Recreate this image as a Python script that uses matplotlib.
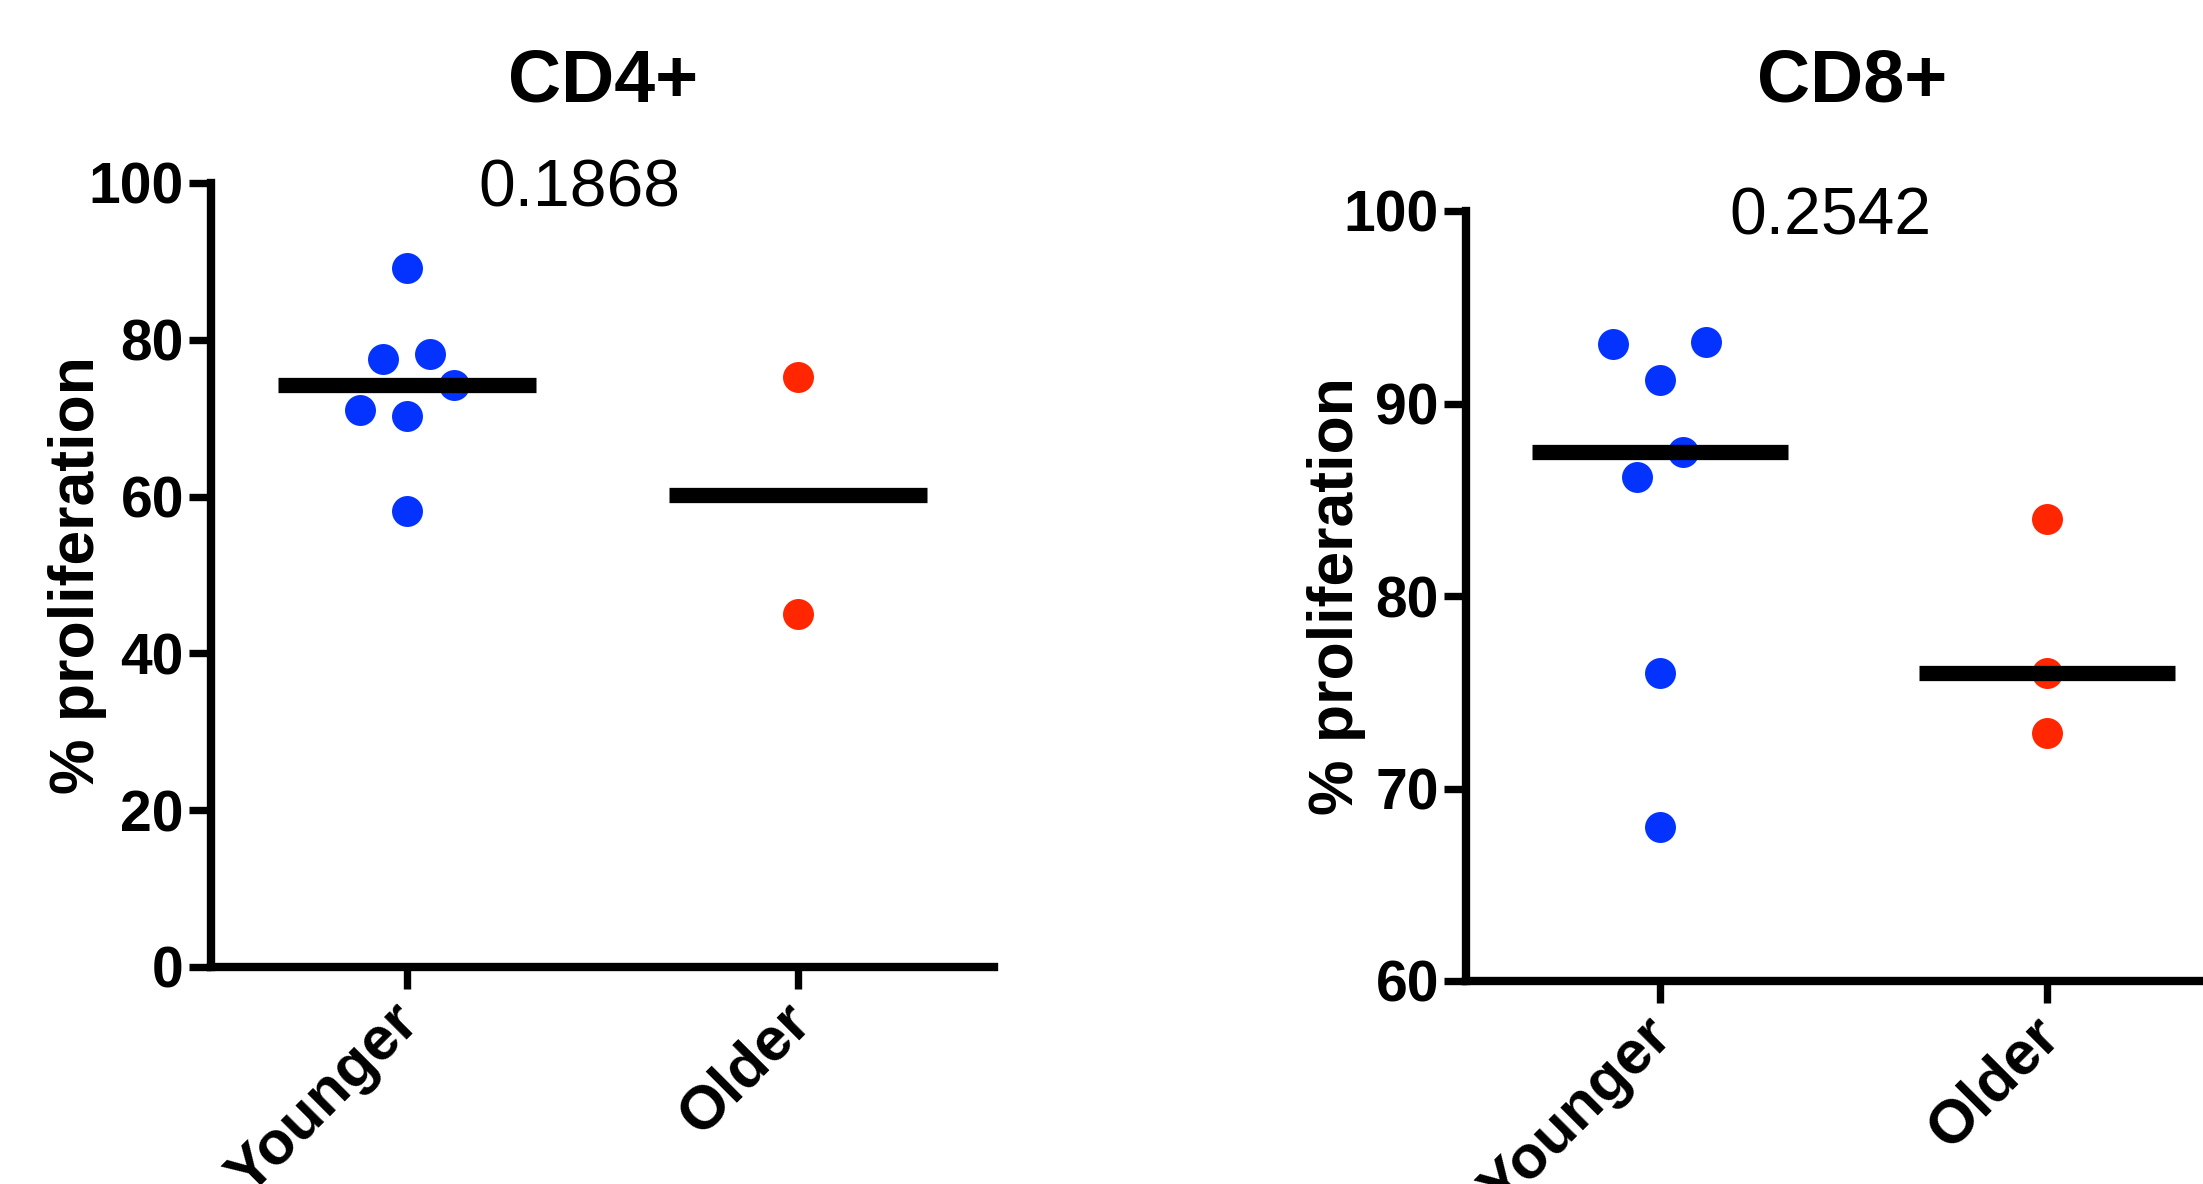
import matplotlib
matplotlib.use('Agg')
import matplotlib.pyplot as plt
import matplotlib.transforms as mtransforms
import numpy as np

plt.rcParams['font.family'] = ['Liberation Sans', 'DejaVu Sans']

# ---------------- data ----------------
groups = ['Younger', 'Older']
cd4_younger = [89.2, 78.2, 77.5, 74.2, 71.1, 70.3, 58.1]
cd4_older = [75.3, 45.0]
cd8_younger = [93.1, 93.2, 91.2, 87.5, 86.2, 76.0, 68.0]
cd8_older = [84.0, 76.0, 72.9]
cd4_p = '0.1868'
cd8_p = '0.2542'
cd4_yticks = [0, 20, 40, 60, 80, 100]
cd8_yticks = [60, 70, 80, 90, 100]
titles = ['CD4+', 'CD8+']
ylabel = '% proliferation'

# ---------------- layout (scatter-dot spread, in category units) ----------------
cd4_younger_spread = [0, 0.06, -0.06, 0.12, -0.12, 0, 0]
cd4_older_spread = [0, 0]
cd8_younger_spread = [-0.12, 0.12, 0, 0.06, -0.06, 0, 0]
cd8_older_spread = [0, 0, 0]

BLUE = '#0433FF'
RED = '#FF2600'
W, H = 2203, 1184
fig = plt.figure(figsize=(W / 100, H / 100), dpi=100)


def px_axes(l, r, b, t):
    return fig.add_axes([l / W, 1 - b / H, (r - l) / W, (b - t) / H])


def panel(ax, younger, older, ys, os_, ylim, yticks, title, pval, title_x, ylab_x, ylab_y):
    for i, (vals, spread, col) in enumerate([(younger, ys, BLUE), (older, os_, RED)]):
        xs = [i + s for s in spread]
        ax.plot(xs, vals, 'o', ms=22.3, color=col, mec='none', zorder=2, clip_on=False)
        ax.hlines(np.median(vals), i - 0.33, i + 0.33, lw=11, color='black', zorder=3,
                  capstyle='butt')
    ax.set_xlim(-0.5, 1.5)
    ax.set_ylim(*ylim)
    ax.set_yticks(yticks)
    ax.set_xticks(range(len(groups)))
    ax.tick_params(axis='y', labelsize=41, width=5.3, length=15.5, pad=4)
    ax.tick_params(axis='x', width=5.3, length=15.5, pad=3)
    ax.set_xticklabels(groups, rotation=45, ha='right', va='top', rotation_mode='anchor',
                       fontsize=44, fontweight='bold')
    shift = mtransforms.ScaledTranslation(-16 / 100, 0, fig.dpi_scale_trans)
    for lab in ax.get_xticklabels():
        lab.set_transform(lab.get_transform() + shift)
    for lab in ax.get_yticklabels():
        lab.set_fontweight('bold')
    for s in ['top', 'right']:
        ax.spines[s].set_visible(False)
    for s in ['left', 'bottom']:
        ax.spines[s].set_linewidth(6)
        ax.spines[s].set_capstyle('projecting')
    ax.patch.set_alpha(0)
    ax.annotate(pval, xy=(0.44, ylim[1]), xytext=(0, -5), textcoords='offset points',
                ha='center', va='center', fontsize=47.5, annotation_clip=False)
    fig.text(title_x / W, 1 - 101 / H, title, ha='center', va='baseline',
             fontsize=53, fontweight='bold')
    fig.text(ylab_x / W, 1 - ylab_y / H, ylabel, rotation=90, ha='center', va='center',
             fontsize=45, fontweight='bold')


ax1 = px_axes(211, 994, 967, 183)
ax2 = px_axes(1466, 2241, 981, 211)

panel(ax1, cd4_younger, cd4_older, cd4_younger_spread, cd4_older_spread, (0, 100),
      cd4_yticks, titles[0], cd4_p, 603, 78, 575)
panel(ax2, cd8_younger, cd8_older, cd8_younger_spread, cd8_older_spread, (60, 100),
      cd8_yticks, titles[1], cd8_p, 1852, 1336, 596)

fig.savefig('out.png', dpi=100, facecolor='white')
